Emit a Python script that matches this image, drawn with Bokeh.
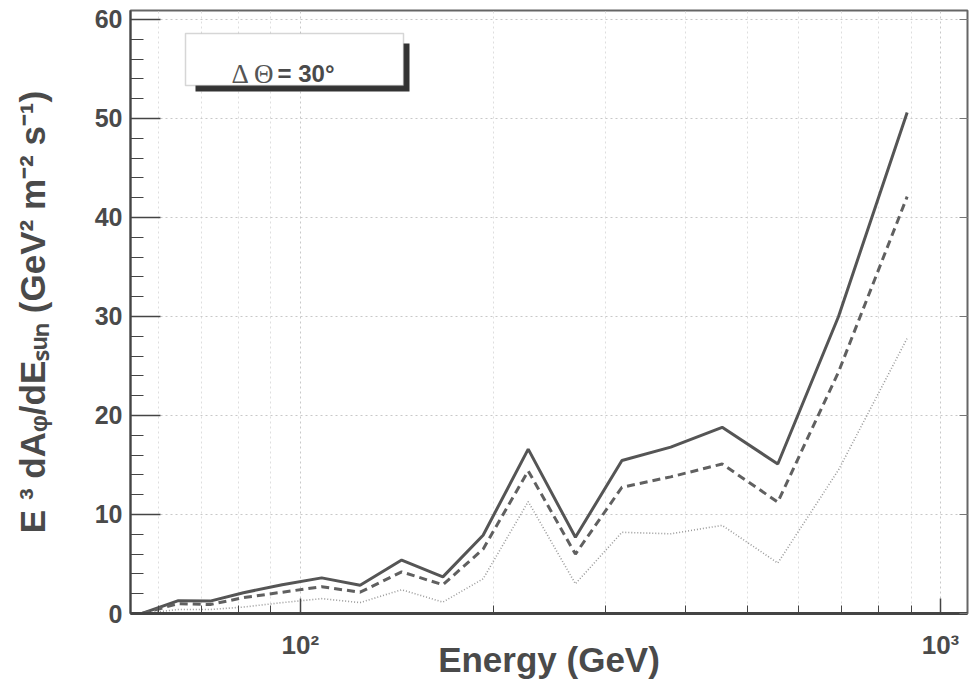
from bokeh.plotting import figure
from bokeh.models import FixedTicker, LinearAxis, BoxAnnotation, Label
from bokeh.embed import file_html
from bokeh.resources import INLINE

# ---- data ----
energy = [56.6, 64.5, 72.3, 81.5, 93.7, 108, 124, 144, 167, 193, 227, 269, 318, 379, 456, 557, 693, 887]
solid = [0.0, 1.3, 1.25, 2.1, 2.9, 3.6, 2.85, 5.4, 3.7, 7.9, 16.6, 7.7, 15.45, 16.8, 18.8, 15.1, 30.0, 50.6]
dashed = [0.0, 1.0, 0.9, 1.6, 2.15, 2.7, 2.15, 4.2, 2.9, 6.5, 14.4, 6.0, 12.75, 13.8, 15.1, 11.25, 24.4, 42.1]
dotted = [0.0, 0.4, 0.4, 0.65, 1.1, 1.5, 1.1, 2.4, 1.15, 3.5, 11.3, 3.0, 8.2, 8.05, 8.9, 5.1, 14.5, 27.8]

x_major = [100, 1000]
x_minor = [60, 70, 80, 90, 200, 300, 400, 500, 600, 700, 800, 900]
x_labels = {100: "10²", 1000: "10³"}
y_major = [0, 10, 20, 30, 40, 50, 60]
y_minor = [v for v in range(2, 60, 2) if v % 10]
legend_text_a = "Δ Θ"
legend_text_b = "= 30°"
x_title = "Energy (GeV)"
y_title = "E ³ dAᵩ/dEₛᵤₙ (GeV² m⁻² s⁻¹)"

FONT = "Liberation Sans"
TXT = "#4a4a4a"
FW, FH = 837, 603

p = figure(x_axis_type="log", x_range=(54.3, 1102), y_range=(0, 60.9),
           frame_width=FW, frame_height=FH,
           min_border_left=130, min_border_top=10, min_border_bottom=60, min_border_right=4,
           output_backend="svg", toolbar_location=None,
           background_fill_color="white", border_fill_color="white")

p.outline_line_color = "#666666"
p.outline_line_width = 2

# grids
p.xgrid.ticker = FixedTicker(ticks=x_major, minor_ticks=x_minor)
p.xgrid.grid_line_color = "#c8c8c8"
p.xgrid.grid_line_dash = "2 3"
p.xgrid.minor_grid_line_color = "#dedede"
p.xgrid.minor_grid_line_dash = "2 3"
p.ygrid.ticker = FixedTicker(ticks=y_major)
p.ygrid.grid_line_color = "#c8c8c8"
p.ygrid.grid_line_dash = "2 3"

# x axis
xa = p.xaxis[0]
xa.ticker = FixedTicker(ticks=x_major, minor_ticks=x_minor)
xa.major_label_overrides = x_labels
xa.major_tick_in = 15
xa.major_tick_out = 0
xa.minor_tick_in = 8
xa.minor_tick_out = 0
xa.major_tick_line_color = "#444444"
xa.minor_tick_line_color = "#444444"
xa.major_tick_line_width = 1.5
xa.axis_line_color = "#444444"
xa.axis_line_width = 3
xa.major_label_text_font = FONT
xa.major_label_text_font_style = "bold"
xa.major_label_text_font_size = "26px"
xa.major_label_text_color = TXT
xa.major_label_standoff = 16
xa.axis_label = x_title
xa.axis_label_text_font = FONT
xa.axis_label_text_font_style = "bold"
xa.axis_label_text_font_size = "35px"
xa.axis_label_text_color = TXT
xa.axis_label_standoff = -23

# y axis: ticks and numbers
ya = p.yaxis[0]
ya.ticker = FixedTicker(ticks=y_major, minor_ticks=y_minor)
ya.major_tick_in = 30
ya.major_tick_out = 0
ya.minor_tick_in = 13
ya.minor_tick_out = 0
ya.major_tick_line_color = "#444444"
ya.minor_tick_line_color = "#444444"
ya.major_tick_line_width = 1.5
ya.axis_line_color = "#444444"
ya.axis_line_width = 2
ya.major_label_text_font = FONT
ya.major_label_text_font_style = "bold"
ya.major_label_text_font_size = "25px"
ya.major_label_text_color = TXT
ya.major_label_standoff = 8

# outer left axis that only carries the title (its bounds place the title a little low, as in the reference)
yt = LinearAxis(ticker=FixedTicker(ticks=[]), bounds=(-2.5, 58.4), axis_line_color=None,
                major_tick_line_color=None, minor_tick_line_color=None,
                axis_label=y_title, axis_label_text_font=FONT, axis_label_text_font_style="bold",
                axis_label_text_font_size="35px", axis_label_text_color=TXT,
                axis_label_standoff=40)
p.add_layout(yt, "left")

# right-hand ticks (no labels)
ra = LinearAxis(ticker=FixedTicker(ticks=y_major), major_tick_in=8, major_tick_out=0,
                minor_tick_in=0, minor_tick_out=0, axis_line_color=None,
                major_tick_line_color="#777777", major_label_text_alpha=0.0,
                major_label_text_font_size="8px")
p.add_layout(ra, "right")

# curves
p.line(energy, solid, line_color="#555555", line_width=3)
p.line(energy, dashed, line_color="#606060", line_width=3, line_dash="8 5")
p.line(energy, dotted, line_color="#9a9a9a", line_width=1.6, line_dash="1 2")

# legend-like box with shadow
p.add_layout(BoxAnnotation(left=65, right=279, bottom=522, top=570,
                           left_units="screen", right_units="screen",
                           top_units="screen", bottom_units="screen",
                           fill_color="#333333", fill_alpha=1.0, line_color=None))
p.add_layout(BoxAnnotation(left=55, right=273, bottom=528, top=580,
                           left_units="screen", right_units="screen",
                           top_units="screen", bottom_units="screen",
                           fill_color="white", fill_alpha=1.0,
                           line_color="#777777", line_width=1.5))
p.add_layout(Label(x=101, y=540, x_units="screen", y_units="screen", text=legend_text_a,
                   text_font="Liberation Serif", text_font_size="27px", text_color="#555555",
                   text_baseline="alphabetic"))
p.add_layout(Label(x=147, y=540, x_units="screen", y_units="screen", text=legend_text_b,
                   text_font=FONT, text_font_style="bold", text_font_size="24px", text_color=TXT,
                   text_baseline="alphabetic"))

open("out.html", "w").write(file_html(p, INLINE))
